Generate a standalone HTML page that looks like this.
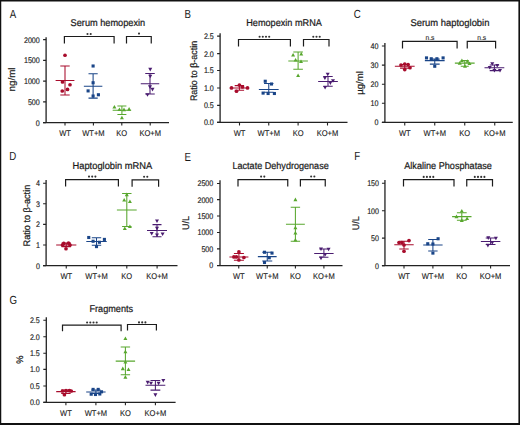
<!DOCTYPE html><html><head><meta charset="utf-8"><style>html,body{margin:0;padding:0;background:#fff}svg{display:block}</style></head><body>
<svg width="520" height="425" viewBox="0 0 520 425" text-rendering="geometricPrecision" font-family='"Liberation Sans", sans-serif'>
<rect x="0" y="0" width="520" height="425" fill="#fff"/>
<text x="9.8" y="17.5" font-size="11.8" text-anchor="start" fill="#1a1a1a" textLength="6.45" lengthAdjust="spacingAndGlyphs" >A</text>
<text x="70.6" y="26.3" font-size="9.8" text-anchor="start" fill="#1a1a1a" stroke="#1a1a1a" stroke-width="0.22" textLength="74.6" lengthAdjust="spacingAndGlyphs" >Serum hemopexin</text>
<path d="M46.1 37.2V122.6M43.1 122.6H169" stroke="#222" stroke-width="1.3" fill="none"/>
<text x="39.8" y="42.550000000000004" font-size="8.2" text-anchor="end" fill="#1a1a1a" stroke="#1a1a1a" stroke-width="0.15" textLength="15.87" lengthAdjust="spacingAndGlyphs" >2000</text>
<text x="39.8" y="63.35" font-size="8.2" text-anchor="end" fill="#1a1a1a" stroke="#1a1a1a" stroke-width="0.15" textLength="15.87" lengthAdjust="spacingAndGlyphs" >1500</text>
<text x="39.8" y="84.05" font-size="8.2" text-anchor="end" fill="#1a1a1a" stroke="#1a1a1a" stroke-width="0.15" textLength="15.87" lengthAdjust="spacingAndGlyphs" >1000</text>
<text x="39.8" y="104.85000000000001" font-size="8.2" text-anchor="end" fill="#1a1a1a" stroke="#1a1a1a" stroke-width="0.15" textLength="11.9" lengthAdjust="spacingAndGlyphs" >500</text>
<text x="39.8" y="125.55" font-size="8.2" text-anchor="end" fill="#1a1a1a" stroke="#1a1a1a" stroke-width="0.15" textLength="3.97" lengthAdjust="spacingAndGlyphs" >0</text>
<path d="M43.1 39.6H46.1M43.1 60.4H46.1M43.1 81.1H46.1M43.1 101.9H46.1M43.1 122.6H46.1M65 122.6V125.6M93.4 122.6V125.6M121.8 122.6V125.6M150.2 122.6V125.6" stroke="#222" stroke-width="1.1" fill="none"/>
<text x="65" y="135.6" font-size="8.4" text-anchor="middle" fill="#1a1a1a" stroke="#1a1a1a" stroke-width="0.12" textLength="11.75" lengthAdjust="spacingAndGlyphs" >WT</text>
<text x="93.4" y="135.6" font-size="8.4" text-anchor="middle" fill="#1a1a1a" stroke="#1a1a1a" stroke-width="0.12" textLength="22.47" lengthAdjust="spacingAndGlyphs" >WT+M</text>
<text x="121.8" y="135.6" font-size="8.4" text-anchor="middle" fill="#1a1a1a" stroke="#1a1a1a" stroke-width="0.12" textLength="10.92" lengthAdjust="spacingAndGlyphs" >KO</text>
<text x="150.2" y="135.6" font-size="8.4" text-anchor="middle" fill="#1a1a1a" stroke="#1a1a1a" stroke-width="0.12" textLength="21.64" lengthAdjust="spacingAndGlyphs" >KO+M</text>
<text x="0" y="0" font-size="9.5" text-anchor="middle" fill="#1a1a1a" stroke="#1a1a1a" stroke-width="0.22" textLength="24" lengthAdjust="spacingAndGlyphs" transform="translate(15.2 79.5) rotate(-90)">ng/ml</text>
<path d="M64.4 43.6V36.5H114.1V43.6" stroke="#1c1c1c" stroke-width="1.2" fill="none"/>
<circle cx="87.50" cy="34" r="1.05" fill="#333"/>
<circle cx="90.70" cy="34" r="1.05" fill="#333"/>
<path d="M126.5 43.6V36.5H151.25V43.6" stroke="#1c1c1c" stroke-width="1.2" fill="none"/>
<circle cx="139.00" cy="33.6" r="1.05" fill="#333"/>
<g stroke="#a80c2c" stroke-width="1.05" fill="none">
<path d="M65 65.9V95M60.3 65.9H69.7M60.3 95H69.7M55.6 80.4H74.4"/>
</g>
<circle cx="65" cy="55.25" r="1.85" fill="#a80c2c"/>
<circle cx="62.5" cy="81.9" r="1.85" fill="#a80c2c"/>
<circle cx="70" cy="84.75" r="1.85" fill="#a80c2c"/>
<circle cx="67.5" cy="89.4" r="1.85" fill="#a80c2c"/>
<circle cx="62.25" cy="91" r="1.85" fill="#a80c2c"/>
<g stroke="#1a4588" stroke-width="1.05" fill="none">
<path d="M93.1 73.75V98.1M88.5 73.75H97.69999999999999M88.5 98.1H97.69999999999999M83.85 86.25H102.35"/>
</g>
<rect x="91.55" y="64.45" width="3.10" height="3.10" fill="#1a4588"/>
<rect x="91.55" y="81.20" width="3.10" height="3.10" fill="#1a4588"/>
<rect x="86.55" y="89.35" width="3.10" height="3.10" fill="#1a4588"/>
<rect x="91.55" y="94.45" width="3.10" height="3.10" fill="#1a4588"/>
<rect x="96.85" y="93.20" width="3.10" height="3.10" fill="#1a4588"/>
<g stroke="#58a72e" stroke-width="1.05" fill="none">
<path d="M121.9 106V114.4M117.4 106H126.4M117.4 114.4H126.4M112.65 110.25H131.15"/>
</g>
<path d="M114.40 104.90L116.40 108.50L112.40 108.50Z" fill="#58a72e"/>
<path d="M119.40 107.40L121.40 111.00L117.40 111.00Z" fill="#58a72e"/>
<path d="M124.00 107.60L126.00 111.20L122.00 111.20Z" fill="#58a72e"/>
<path d="M129.10 107.10L131.10 110.70L127.10 110.70Z" fill="#58a72e"/>
<path d="M121.90 115.75L123.90 119.35L119.90 119.35Z" fill="#58a72e"/>
<g stroke="#4a1c70" stroke-width="1.05" fill="none">
<path d="M150 73.4V94M145.25 73.4H154.75M145.25 94H154.75M140.75 83.75H159.25"/>
</g>
<path d="M150.25 71.40L152.25 67.80L148.25 67.80Z" fill="#4a1c70"/>
<path d="M150.25 78.25L152.25 74.65L148.25 74.65Z" fill="#4a1c70"/>
<path d="M150.00 88.90L152.00 85.30L148.00 85.30Z" fill="#4a1c70"/>
<path d="M152.50 91.40L154.50 87.80L150.50 87.80Z" fill="#4a1c70"/>
<path d="M147.50 96.75L149.50 93.15L145.50 93.15Z" fill="#4a1c70"/>
<text x="184.5" y="17.5" font-size="11.8" text-anchor="start" fill="#1a1a1a" textLength="6.45" lengthAdjust="spacingAndGlyphs" >B</text>
<text x="246.25" y="26.25" font-size="9.8" text-anchor="start" fill="#1a1a1a" stroke="#1a1a1a" stroke-width="0.22" textLength="75.6" lengthAdjust="spacingAndGlyphs" >Hemopexin mRNA</text>
<path d="M220.1 33.25V122.4M217.1 122.4H347.5" stroke="#222" stroke-width="1.3" fill="none"/>
<text x="213.8" y="39.050000000000004" font-size="8.2" text-anchor="end" fill="#1a1a1a" stroke="#1a1a1a" stroke-width="0.15" textLength="9.92" lengthAdjust="spacingAndGlyphs" >2.5</text>
<text x="213.8" y="56.550000000000004" font-size="8.2" text-anchor="end" fill="#1a1a1a" stroke="#1a1a1a" stroke-width="0.15" textLength="9.92" lengthAdjust="spacingAndGlyphs" >2.0</text>
<text x="213.8" y="73.45" font-size="8.2" text-anchor="end" fill="#1a1a1a" stroke="#1a1a1a" stroke-width="0.15" textLength="9.92" lengthAdjust="spacingAndGlyphs" >1.5</text>
<text x="213.8" y="90.95" font-size="8.2" text-anchor="end" fill="#1a1a1a" stroke="#1a1a1a" stroke-width="0.15" textLength="9.92" lengthAdjust="spacingAndGlyphs" >1.0</text>
<text x="213.8" y="108.35000000000001" font-size="8.2" text-anchor="end" fill="#1a1a1a" stroke="#1a1a1a" stroke-width="0.15" textLength="9.92" lengthAdjust="spacingAndGlyphs" >0.5</text>
<text x="213.8" y="125.35000000000001" font-size="8.2" text-anchor="end" fill="#1a1a1a" stroke="#1a1a1a" stroke-width="0.15" textLength="9.92" lengthAdjust="spacingAndGlyphs" >0.0</text>
<path d="M217.1 36.1H220.1M217.1 53.6H220.1M217.1 70.5H220.1M217.1 88H220.1M217.1 105.4H220.1M217.1 122.4H220.1M239.5 122.4V125.4M268.75 122.4V125.4M298.1 122.4V125.4M327.5 122.4V125.4" stroke="#222" stroke-width="1.1" fill="none"/>
<text x="239.5" y="135.7" font-size="8.4" text-anchor="middle" fill="#1a1a1a" stroke="#1a1a1a" stroke-width="0.12" textLength="11.75" lengthAdjust="spacingAndGlyphs" >WT</text>
<text x="268.75" y="135.7" font-size="8.4" text-anchor="middle" fill="#1a1a1a" stroke="#1a1a1a" stroke-width="0.12" textLength="22.47" lengthAdjust="spacingAndGlyphs" >WT+M</text>
<text x="298.1" y="135.7" font-size="8.4" text-anchor="middle" fill="#1a1a1a" stroke="#1a1a1a" stroke-width="0.12" textLength="10.92" lengthAdjust="spacingAndGlyphs" >KO</text>
<text x="327.5" y="135.7" font-size="8.4" text-anchor="middle" fill="#1a1a1a" stroke="#1a1a1a" stroke-width="0.12" textLength="21.64" lengthAdjust="spacingAndGlyphs" >KO+M</text>
<text x="0" y="0" font-size="9.5" text-anchor="middle" fill="#1a1a1a" stroke="#1a1a1a" stroke-width="0.22" textLength="60.2" lengthAdjust="spacingAndGlyphs" transform="translate(196.8 71) rotate(-90)">Ratio to β-actin</text>
<path d="M238.5 46.5V39.5H290.4V46.5" stroke="#1c1c1c" stroke-width="1.2" fill="none"/>
<circle cx="259.60" cy="36.75" r="1.05" fill="#333"/>
<circle cx="262.80" cy="36.75" r="1.05" fill="#333"/>
<circle cx="266.00" cy="36.75" r="1.05" fill="#333"/>
<circle cx="269.20" cy="36.75" r="1.05" fill="#333"/>
<path d="M303.5 46.5V39.5H329V46.5" stroke="#1c1c1c" stroke-width="1.2" fill="none"/>
<circle cx="313.30" cy="36.75" r="1.05" fill="#333"/>
<circle cx="316.50" cy="36.75" r="1.05" fill="#333"/>
<circle cx="319.70" cy="36.75" r="1.05" fill="#333"/>
<g stroke="#a80c2c" stroke-width="1.05" fill="none">
<path d="M239.4 85.6V90.3M234.70000000000002 85.6H244.1M234.70000000000002 90.3H244.1M229.70000000000002 87.9H249.1"/>
</g>
<circle cx="231.5" cy="87.9" r="1.85" fill="#a80c2c"/>
<circle cx="239.4" cy="85" r="1.85" fill="#a80c2c"/>
<circle cx="236.5" cy="91.25" r="1.85" fill="#a80c2c"/>
<circle cx="242.5" cy="86.9" r="1.85" fill="#a80c2c"/>
<circle cx="247.5" cy="87.9" r="1.85" fill="#a80c2c"/>
<g stroke="#1a4588" stroke-width="1.05" fill="none">
<path d="M268.75 83.5V92.25M264.05 83.5H273.45M264.05 92.25H273.45M258.85 89.4H278.65"/>
</g>
<rect x="263.70" y="79.70" width="3.10" height="3.10" fill="#1a4588"/>
<rect x="269.95" y="82.45" width="3.10" height="3.10" fill="#1a4588"/>
<rect x="261.55" y="91.55" width="3.10" height="3.10" fill="#1a4588"/>
<rect x="266.55" y="91.95" width="3.10" height="3.10" fill="#1a4588"/>
<rect x="272.85" y="91.95" width="3.10" height="3.10" fill="#1a4588"/>
<g stroke="#58a72e" stroke-width="1.05" fill="none">
<path d="M298.1 52V69.25M293.3 52H302.90000000000003M293.3 69.25H302.90000000000003M288.3 60.9H307.90000000000003"/>
</g>
<path d="M293.10 52.90L295.10 56.50L291.10 56.50Z" fill="#58a72e"/>
<path d="M301.25 52.00L303.25 55.60L299.25 55.60Z" fill="#58a72e"/>
<path d="M295.60 57.90L297.60 61.50L293.60 61.50Z" fill="#58a72e"/>
<path d="M301.00 59.50L303.00 63.10L299.00 63.10Z" fill="#58a72e"/>
<path d="M298.10 73.50L300.10 77.10L296.10 77.10Z" fill="#58a72e"/>
<g stroke="#4a1c70" stroke-width="1.05" fill="none">
<path d="M328 76.4V86.25M323.3 76.4H332.7M323.3 86.25H332.7M318.15 81.4H337.85"/>
</g>
<path d="M327.70 76.30L329.70 72.70L325.70 72.70Z" fill="#4a1c70"/>
<path d="M324.90 80.00L326.90 76.40L322.90 76.40Z" fill="#4a1c70"/>
<path d="M330.40 84.90L332.40 81.30L328.40 81.30Z" fill="#4a1c70"/>
<path d="M333.00 82.75L335.00 79.15L331.00 79.15Z" fill="#4a1c70"/>
<path d="M325.10 89.50L327.10 85.90L323.10 85.90Z" fill="#4a1c70"/>
<text x="353.75" y="18" font-size="11.8" text-anchor="start" fill="#1a1a1a" textLength="6.99" lengthAdjust="spacingAndGlyphs" >C</text>
<text x="410.4" y="26.15" font-size="9.8" text-anchor="start" fill="#1a1a1a" stroke="#1a1a1a" stroke-width="0.22" textLength="79.05" lengthAdjust="spacingAndGlyphs" >Serum haptoglobin</text>
<path d="M384.9 43.0V122.4M381.9 122.4H512.75" stroke="#222" stroke-width="1.3" fill="none"/>
<text x="378.40000000000003" y="48.95" font-size="8.2" text-anchor="end" fill="#1a1a1a" stroke="#1a1a1a" stroke-width="0.15" textLength="7.94" lengthAdjust="spacingAndGlyphs" >40</text>
<text x="378.40000000000003" y="68.05" font-size="8.2" text-anchor="end" fill="#1a1a1a" stroke="#1a1a1a" stroke-width="0.15" textLength="7.94" lengthAdjust="spacingAndGlyphs" >30</text>
<text x="378.40000000000003" y="87.15" font-size="8.2" text-anchor="end" fill="#1a1a1a" stroke="#1a1a1a" stroke-width="0.15" textLength="7.94" lengthAdjust="spacingAndGlyphs" >20</text>
<text x="378.40000000000003" y="106.25" font-size="8.2" text-anchor="end" fill="#1a1a1a" stroke="#1a1a1a" stroke-width="0.15" textLength="7.94" lengthAdjust="spacingAndGlyphs" >10</text>
<text x="378.40000000000003" y="125.35000000000001" font-size="8.2" text-anchor="end" fill="#1a1a1a" stroke="#1a1a1a" stroke-width="0.15" textLength="3.97" lengthAdjust="spacingAndGlyphs" >0</text>
<path d="M381.9 46.0H384.9M381.9 65.1H384.9M381.9 84.2H384.9M381.9 103.3H384.9M381.9 122.4H384.9M404.75 122.4V125.4M434.75 122.4V125.4M464.75 122.4V125.4M494.75 122.4V125.4" stroke="#222" stroke-width="1.1" fill="none"/>
<text x="404.75" y="135.6" font-size="8.4" text-anchor="middle" fill="#1a1a1a" stroke="#1a1a1a" stroke-width="0.12" textLength="11.75" lengthAdjust="spacingAndGlyphs" >WT</text>
<text x="434.75" y="135.6" font-size="8.4" text-anchor="middle" fill="#1a1a1a" stroke="#1a1a1a" stroke-width="0.12" textLength="22.47" lengthAdjust="spacingAndGlyphs" >WT+M</text>
<text x="464.75" y="135.6" font-size="8.4" text-anchor="middle" fill="#1a1a1a" stroke="#1a1a1a" stroke-width="0.12" textLength="10.92" lengthAdjust="spacingAndGlyphs" >KO</text>
<text x="494.75" y="135.6" font-size="8.4" text-anchor="middle" fill="#1a1a1a" stroke="#1a1a1a" stroke-width="0.12" textLength="21.64" lengthAdjust="spacingAndGlyphs" >KO+M</text>
<text x="0" y="0" font-size="9.5" text-anchor="middle" fill="#1a1a1a" stroke="#1a1a1a" stroke-width="0.22" textLength="23.6" lengthAdjust="spacingAndGlyphs" transform="translate(363.2 83) rotate(-90)">µg/ml</text>
<path d="M402.5 48.5V41.4H457.1V48.5" stroke="#1c1c1c" stroke-width="1.2" fill="none"/>
<text x="430" y="39.7" font-size="7" text-anchor="middle" fill="#1a1a1a" stroke="#1a1a1a" stroke-width="0.1" textLength="9" lengthAdjust="spacingAndGlyphs" >n.s</text>
<path d="M467.25 48.5V41.4H495.6V48.5" stroke="#1c1c1c" stroke-width="1.2" fill="none"/>
<text x="481.75" y="39.7" font-size="7" text-anchor="middle" fill="#1a1a1a" stroke="#1a1a1a" stroke-width="0.1" textLength="9" lengthAdjust="spacingAndGlyphs" >n.s</text>
<g stroke="#a80c2c" stroke-width="1.05" fill="none">
<path d="M404.75 64.4V68.1M400.05 64.4H409.45M400.05 68.1H409.45M394.85 66.25H414.65"/>
</g>
<circle cx="401" cy="65" r="1.85" fill="#a80c2c"/>
<circle cx="404.75" cy="64" r="1.85" fill="#a80c2c"/>
<circle cx="408.1" cy="64.6" r="1.85" fill="#a80c2c"/>
<circle cx="410" cy="67.75" r="1.85" fill="#a80c2c"/>
<circle cx="404.75" cy="69.6" r="1.85" fill="#a80c2c"/>
<g stroke="#1a4588" stroke-width="1.05" fill="none">
<path d="M434.75 59.1V64.1M429.85 59.1H439.65M429.85 64.1H439.65M424.85 60.6H444.65"/>
</g>
<rect x="424.95" y="56.35" width="3.10" height="3.10" fill="#1a4588"/>
<rect x="429.70" y="57.20" width="3.10" height="3.10" fill="#1a4588"/>
<rect x="435.35" y="57.20" width="3.10" height="3.10" fill="#1a4588"/>
<rect x="441.55" y="56.35" width="3.10" height="3.10" fill="#1a4588"/>
<rect x="433.20" y="64.70" width="3.10" height="3.10" fill="#1a4588"/>
<g stroke="#58a72e" stroke-width="1.05" fill="none">
<path d="M464.75 60.4V66.25M460.75 60.4H468.75M460.75 66.25H468.75M454.85 63.1H474.65"/>
</g>
<path d="M461.90 58.40L463.90 62.00L459.90 62.00Z" fill="#58a72e"/>
<path d="M467.50 59.25L469.50 62.85L465.50 62.85Z" fill="#58a72e"/>
<path d="M459.75 61.10L461.75 64.70L457.75 64.70Z" fill="#58a72e"/>
<path d="M465.00 64.25L467.00 67.85L463.00 67.85Z" fill="#58a72e"/>
<path d="M469.50 61.50L471.50 65.10L467.50 65.10Z" fill="#58a72e"/>
<g stroke="#4a1c70" stroke-width="1.05" fill="none">
<path d="M494.4 65V70.6M489.7 65H499.09999999999997M489.7 70.6H499.09999999999997M484.5 67.75H504.29999999999995"/>
</g>
<path d="M492.25 65.75L494.25 62.15L490.25 62.15Z" fill="#4a1c70"/>
<path d="M497.25 67.60L499.25 64.00L495.25 64.00Z" fill="#4a1c70"/>
<path d="M489.75 69.50L491.75 65.90L487.75 65.90Z" fill="#4a1c70"/>
<path d="M494.40 72.60L496.40 69.00L492.40 69.00Z" fill="#4a1c70"/>
<path d="M500.00 72.60L502.00 69.00L498.00 69.00Z" fill="#4a1c70"/>
<text x="9.2" y="160.4" font-size="11.8" text-anchor="start" fill="#1a1a1a" textLength="6.99" lengthAdjust="spacingAndGlyphs" >D</text>
<text x="72.5" y="168.75" font-size="9.8" text-anchor="start" fill="#1a1a1a" stroke="#1a1a1a" stroke-width="0.22" textLength="79.8" lengthAdjust="spacingAndGlyphs" >Haptoglobin mRNA</text>
<path d="M46.1 180.1V265.6M43.1 265.6H177.5" stroke="#222" stroke-width="1.3" fill="none"/>
<text x="40.0" y="186.14999999999998" font-size="8.2" text-anchor="end" fill="#1a1a1a" stroke="#1a1a1a" stroke-width="0.15" textLength="3.97" lengthAdjust="spacingAndGlyphs" >4</text>
<text x="40.0" y="206.75" font-size="8.2" text-anchor="end" fill="#1a1a1a" stroke="#1a1a1a" stroke-width="0.15" textLength="3.97" lengthAdjust="spacingAndGlyphs" >3</text>
<text x="40.0" y="227.35" font-size="8.2" text-anchor="end" fill="#1a1a1a" stroke="#1a1a1a" stroke-width="0.15" textLength="3.97" lengthAdjust="spacingAndGlyphs" >2</text>
<text x="40.0" y="247.95" font-size="8.2" text-anchor="end" fill="#1a1a1a" stroke="#1a1a1a" stroke-width="0.15" textLength="3.97" lengthAdjust="spacingAndGlyphs" >1</text>
<text x="40.0" y="268.55" font-size="8.2" text-anchor="end" fill="#1a1a1a" stroke="#1a1a1a" stroke-width="0.15" textLength="3.97" lengthAdjust="spacingAndGlyphs" >0</text>
<path d="M43.1 183.2H46.1M43.1 203.8H46.1M43.1 224.4H46.1M43.1 245.0H46.1M43.1 265.6H46.1M66.25 265.6V268.6M96.5 265.6V268.6M126.8 265.6V268.6M157.1 265.6V268.6" stroke="#222" stroke-width="1.1" fill="none"/>
<text x="66.25" y="279" font-size="8.4" text-anchor="middle" fill="#1a1a1a" stroke="#1a1a1a" stroke-width="0.12" textLength="11.75" lengthAdjust="spacingAndGlyphs" >WT</text>
<text x="96.5" y="279" font-size="8.4" text-anchor="middle" fill="#1a1a1a" stroke="#1a1a1a" stroke-width="0.12" textLength="22.47" lengthAdjust="spacingAndGlyphs" >WT+M</text>
<text x="126.8" y="279" font-size="8.4" text-anchor="middle" fill="#1a1a1a" stroke="#1a1a1a" stroke-width="0.12" textLength="10.92" lengthAdjust="spacingAndGlyphs" >KO</text>
<text x="157.1" y="279" font-size="8.4" text-anchor="middle" fill="#1a1a1a" stroke="#1a1a1a" stroke-width="0.12" textLength="21.64" lengthAdjust="spacingAndGlyphs" >KO+M</text>
<text x="0" y="0" font-size="9.5" text-anchor="middle" fill="#1a1a1a" stroke="#1a1a1a" stroke-width="0.22" textLength="61.7" lengthAdjust="spacingAndGlyphs" transform="translate(30 215.6) rotate(-90)">Ratio to β-actin</text>
<path d="M65.6 186.6V179.7H118.4V186.6" stroke="#1c1c1c" stroke-width="1.2" fill="none"/>
<circle cx="89.00" cy="176.6" r="1.05" fill="#333"/>
<circle cx="92.20" cy="176.6" r="1.05" fill="#333"/>
<circle cx="95.40" cy="176.6" r="1.05" fill="#333"/>
<path d="M132.1 186.7V179.8H158.6V186.7" stroke="#1c1c1c" stroke-width="1.2" fill="none"/>
<circle cx="144.10" cy="176.8" r="1.05" fill="#333"/>
<circle cx="147.30" cy="176.8" r="1.05" fill="#333"/>
<g stroke="#a80c2c" stroke-width="1.05" fill="none">
<path d="M66.25 243.1V246.6M61.55 243.1H70.95M61.55 246.6H70.95M56.15 245H76.35"/>
</g>
<circle cx="63.75" cy="243.4" r="1.85" fill="#a80c2c"/>
<circle cx="68.5" cy="243.1" r="1.85" fill="#a80c2c"/>
<circle cx="70" cy="245" r="1.85" fill="#a80c2c"/>
<circle cx="62.5" cy="245" r="1.85" fill="#a80c2c"/>
<circle cx="66" cy="248.75" r="1.85" fill="#a80c2c"/>
<g stroke="#1a4588" stroke-width="1.05" fill="none">
<path d="M96.5 237.75V245.25M91.8 237.75H101.2M91.8 245.25H101.2M86.3 241.5H106.7"/>
</g>
<rect x="87.20" y="235.95" width="3.10" height="3.10" fill="#1a4588"/>
<rect x="102.85" y="237.85" width="3.10" height="3.10" fill="#1a4588"/>
<rect x="91.55" y="239.70" width="3.10" height="3.10" fill="#1a4588"/>
<rect x="97.85" y="240.70" width="3.10" height="3.10" fill="#1a4588"/>
<rect x="94.95" y="245.05" width="3.10" height="3.10" fill="#1a4588"/>
<g stroke="#58a72e" stroke-width="1.05" fill="none">
<path d="M126.8 193.5V226.4M122.1 193.5H131.5M122.1 226.4H131.5M116.89999999999999 209.9H136.7"/>
</g>
<path d="M126.80 192.60L128.80 196.20L124.80 196.20Z" fill="#58a72e"/>
<path d="M124.20 198.00L126.20 201.60L122.20 201.60Z" fill="#58a72e"/>
<path d="M129.90 199.40L131.90 203.00L127.90 203.00Z" fill="#58a72e"/>
<path d="M124.80 226.40L126.80 230.00L122.80 230.00Z" fill="#58a72e"/>
<path d="M129.90 224.40L131.90 228.00L127.90 228.00Z" fill="#58a72e"/>
<g stroke="#4a1c70" stroke-width="1.05" fill="none">
<path d="M157 224.6V236.7M152.5 224.6H161.5M152.5 236.7H161.5M147 230.5H167"/>
</g>
<path d="M157.00 223.00L159.00 219.40L155.00 219.40Z" fill="#4a1c70"/>
<path d="M157.00 230.40L159.00 226.80L155.00 226.80Z" fill="#4a1c70"/>
<path d="M151.70 235.60L153.70 232.00L149.70 232.00Z" fill="#4a1c70"/>
<path d="M157.00 237.00L159.00 233.40L155.00 233.40Z" fill="#4a1c70"/>
<path d="M162.60 236.10L164.60 232.50L160.60 232.50Z" fill="#4a1c70"/>
<text x="184.4" y="160.5" font-size="11.8" text-anchor="start" fill="#1a1a1a" textLength="6.45" lengthAdjust="spacingAndGlyphs" >E</text>
<text x="232.5" y="168.75" font-size="9.8" text-anchor="start" fill="#1a1a1a" stroke="#1a1a1a" stroke-width="0.22" textLength="96.2" lengthAdjust="spacingAndGlyphs" >Lactate Dehydrogenase</text>
<path d="M220.0 180.2V265.6M217.0 265.6H342.5" stroke="#222" stroke-width="1.3" fill="none"/>
<text x="213.3" y="186.45" font-size="8.2" text-anchor="end" fill="#1a1a1a" stroke="#1a1a1a" stroke-width="0.15" textLength="15.87" lengthAdjust="spacingAndGlyphs" >2500</text>
<text x="213.3" y="202.54999999999998" font-size="8.2" text-anchor="end" fill="#1a1a1a" stroke="#1a1a1a" stroke-width="0.15" textLength="15.87" lengthAdjust="spacingAndGlyphs" >2000</text>
<text x="213.3" y="218.95" font-size="8.2" text-anchor="end" fill="#1a1a1a" stroke="#1a1a1a" stroke-width="0.15" textLength="15.87" lengthAdjust="spacingAndGlyphs" >1500</text>
<text x="213.3" y="235.45" font-size="8.2" text-anchor="end" fill="#1a1a1a" stroke="#1a1a1a" stroke-width="0.15" textLength="15.87" lengthAdjust="spacingAndGlyphs" >1000</text>
<text x="213.3" y="251.85" font-size="8.2" text-anchor="end" fill="#1a1a1a" stroke="#1a1a1a" stroke-width="0.15" textLength="11.9" lengthAdjust="spacingAndGlyphs" >500</text>
<text x="213.3" y="268.45" font-size="8.2" text-anchor="end" fill="#1a1a1a" stroke="#1a1a1a" stroke-width="0.15" textLength="3.97" lengthAdjust="spacingAndGlyphs" >0</text>
<path d="M217.0 183.5H220.0M217.0 199.6H220.0M217.0 216H220.0M217.0 232.5H220.0M217.0 248.9H220.0M217.0 265.5H220.0M238.75 265.6V268.6M267.25 265.6V268.6M295.4 265.6V268.6M323.9 265.6V268.6" stroke="#222" stroke-width="1.1" fill="none"/>
<text x="238.75" y="278.8" font-size="8.4" text-anchor="middle" fill="#1a1a1a" stroke="#1a1a1a" stroke-width="0.12" textLength="11.75" lengthAdjust="spacingAndGlyphs" >WT</text>
<text x="267.25" y="278.8" font-size="8.4" text-anchor="middle" fill="#1a1a1a" stroke="#1a1a1a" stroke-width="0.12" textLength="22.47" lengthAdjust="spacingAndGlyphs" >WT+M</text>
<text x="295.4" y="278.8" font-size="8.4" text-anchor="middle" fill="#1a1a1a" stroke="#1a1a1a" stroke-width="0.12" textLength="10.92" lengthAdjust="spacingAndGlyphs" >KO</text>
<text x="323.9" y="278.8" font-size="8.4" text-anchor="middle" fill="#1a1a1a" stroke="#1a1a1a" stroke-width="0.12" textLength="21.64" lengthAdjust="spacingAndGlyphs" >KO+M</text>
<text x="0" y="0" font-size="9.5" text-anchor="middle" fill="#1a1a1a" stroke="#1a1a1a" stroke-width="0.22" textLength="14" lengthAdjust="spacingAndGlyphs" transform="translate(189.4 222.9) rotate(-90)">U/L</text>
<path d="M238.0 186.5V179.6H287.75V186.5" stroke="#1c1c1c" stroke-width="1.2" fill="none"/>
<circle cx="261.10" cy="176.6" r="1.05" fill="#333"/>
<circle cx="264.30" cy="176.6" r="1.05" fill="#333"/>
<path d="M300.4 186.5V179.6H325.25V186.5" stroke="#1c1c1c" stroke-width="1.2" fill="none"/>
<circle cx="311.15" cy="176.5" r="1.05" fill="#333"/>
<circle cx="314.35" cy="176.5" r="1.05" fill="#333"/>
<g stroke="#a80c2c" stroke-width="1.05" fill="none">
<path d="M238.9 253.5V260.25M233.9 253.5H243.9M233.9 260.25H243.9M229.4 256.9H248.4"/>
</g>
<circle cx="238.9" cy="251.9" r="1.85" fill="#a80c2c"/>
<circle cx="233.9" cy="256.9" r="1.85" fill="#a80c2c"/>
<circle cx="243.9" cy="257.5" r="1.85" fill="#a80c2c"/>
<circle cx="238.9" cy="260" r="1.85" fill="#a80c2c"/>
<circle cx="236.4" cy="256.9" r="1.85" fill="#a80c2c"/>
<g stroke="#1a4588" stroke-width="1.05" fill="none">
<path d="M267.25 252.25V261M262.25 252.25H272.25M262.25 261H272.25M257.85 256.6H276.65"/>
</g>
<rect x="262.95" y="250.70" width="3.10" height="3.10" fill="#1a4588"/>
<rect x="270.45" y="251.55" width="3.10" height="3.10" fill="#1a4588"/>
<rect x="267.70" y="256.20" width="3.10" height="3.10" fill="#1a4588"/>
<rect x="262.95" y="260.95" width="3.10" height="3.10" fill="#1a4588"/>
<g stroke="#58a72e" stroke-width="1.05" fill="none">
<path d="M295.4 207.3V241.2M290.7 207.3H300.09999999999997M290.7 241.2H300.09999999999997M285.95 224.3H304.84999999999997"/>
</g>
<path d="M295.40 197.60L297.40 201.20L293.40 201.20Z" fill="#58a72e"/>
<path d="M295.40 225.70L297.40 229.30L293.40 229.30Z" fill="#58a72e"/>
<path d="M295.40 230.90L297.40 234.50L293.40 234.50Z" fill="#58a72e"/>
<path d="M295.40 237.90L297.40 241.50L293.40 241.50Z" fill="#58a72e"/>
<g stroke="#4a1c70" stroke-width="1.05" fill="none">
<path d="M323.9 249V257.2M319.34999999999997 249H328.45M319.34999999999997 257.2H328.45M314.2 253.5H333.59999999999997"/>
</g>
<path d="M321.00 251.00L323.00 247.40L319.00 247.40Z" fill="#4a1c70"/>
<path d="M328.60 251.30L330.60 247.70L326.60 247.70Z" fill="#4a1c70"/>
<path d="M325.20 256.60L327.20 253.00L323.20 253.00Z" fill="#4a1c70"/>
<path d="M321.00 260.20L323.00 256.60L319.00 256.60Z" fill="#4a1c70"/>
<text x="354.3" y="160.2" font-size="11.8" text-anchor="start" fill="#1a1a1a" textLength="5.91" lengthAdjust="spacingAndGlyphs" >F</text>
<text x="404.25" y="169.25" font-size="9.8" text-anchor="start" fill="#1a1a1a" stroke="#1a1a1a" stroke-width="0.22" textLength="87.6" lengthAdjust="spacingAndGlyphs" >Alkaline Phosphatase</text>
<path d="M384.95 180.1V265.6M381.95 265.6H510" stroke="#222" stroke-width="1.3" fill="none"/>
<text x="379.05" y="186.2" font-size="8.2" text-anchor="end" fill="#1a1a1a" stroke="#1a1a1a" stroke-width="0.15" textLength="11.9" lengthAdjust="spacingAndGlyphs" >150</text>
<text x="379.05" y="213.64999999999998" font-size="8.2" text-anchor="end" fill="#1a1a1a" stroke="#1a1a1a" stroke-width="0.15" textLength="11.9" lengthAdjust="spacingAndGlyphs" >100</text>
<text x="379.05" y="241.1" font-size="8.2" text-anchor="end" fill="#1a1a1a" stroke="#1a1a1a" stroke-width="0.15" textLength="7.94" lengthAdjust="spacingAndGlyphs" >50</text>
<text x="379.05" y="268.55" font-size="8.2" text-anchor="end" fill="#1a1a1a" stroke="#1a1a1a" stroke-width="0.15" textLength="3.97" lengthAdjust="spacingAndGlyphs" >0</text>
<path d="M381.95 183.25H384.95M381.95 210.7H384.95M381.95 238.15H384.95M381.95 265.6H384.95M404 265.6V268.6M432.9 265.6V268.6M461.8 265.6V268.6M490.6 265.6V268.6" stroke="#222" stroke-width="1.1" fill="none"/>
<text x="404" y="279" font-size="8.4" text-anchor="middle" fill="#1a1a1a" stroke="#1a1a1a" stroke-width="0.12" textLength="11.75" lengthAdjust="spacingAndGlyphs" >WT</text>
<text x="432.9" y="279" font-size="8.4" text-anchor="middle" fill="#1a1a1a" stroke="#1a1a1a" stroke-width="0.12" textLength="22.47" lengthAdjust="spacingAndGlyphs" >WT+M</text>
<text x="461.8" y="279" font-size="8.4" text-anchor="middle" fill="#1a1a1a" stroke="#1a1a1a" stroke-width="0.12" textLength="10.92" lengthAdjust="spacingAndGlyphs" >KO</text>
<text x="490.6" y="279" font-size="8.4" text-anchor="middle" fill="#1a1a1a" stroke="#1a1a1a" stroke-width="0.12" textLength="21.64" lengthAdjust="spacingAndGlyphs" >KO+M</text>
<text x="0" y="0" font-size="9.5" text-anchor="middle" fill="#1a1a1a" stroke="#1a1a1a" stroke-width="0.22" textLength="14" lengthAdjust="spacingAndGlyphs" transform="translate(359 223.3) rotate(-90)">U/L</text>
<path d="M403.5 186.5V179.6H454V186.5" stroke="#1c1c1c" stroke-width="1.2" fill="none"/>
<circle cx="423.70" cy="176.9" r="1.05" fill="#333"/>
<circle cx="426.90" cy="176.9" r="1.05" fill="#333"/>
<circle cx="430.10" cy="176.9" r="1.05" fill="#333"/>
<circle cx="433.30" cy="176.9" r="1.05" fill="#333"/>
<path d="M466.75 186.5V179.6H492.5V186.5" stroke="#1c1c1c" stroke-width="1.2" fill="none"/>
<circle cx="474.80" cy="176.9" r="1.05" fill="#333"/>
<circle cx="478.00" cy="176.9" r="1.05" fill="#333"/>
<circle cx="481.20" cy="176.9" r="1.05" fill="#333"/>
<circle cx="484.40" cy="176.9" r="1.05" fill="#333"/>
<g stroke="#a80c2c" stroke-width="1.05" fill="none">
<path d="M404 241.25V249M399.3 241.25H408.7M399.3 249H408.7M394.3 244.75H413.7"/>
</g>
<circle cx="409" cy="240.6" r="1.85" fill="#a80c2c"/>
<circle cx="399" cy="242.5" r="1.85" fill="#a80c2c"/>
<circle cx="404" cy="245" r="1.85" fill="#a80c2c"/>
<circle cx="404" cy="251.25" r="1.85" fill="#a80c2c"/>
<circle cx="401.9" cy="242.5" r="1.85" fill="#a80c2c"/>
<g stroke="#1a4588" stroke-width="1.05" fill="none">
<path d="M432.9 239.4V250.9M428.2 239.4H437.59999999999997M428.2 250.9H437.59999999999997M423.2 245H442.59999999999997"/>
</g>
<rect x="436.55" y="237.20" width="3.10" height="3.10" fill="#1a4588"/>
<rect x="426.20" y="242.20" width="3.10" height="3.10" fill="#1a4588"/>
<rect x="431.35" y="242.45" width="3.10" height="3.10" fill="#1a4588"/>
<rect x="431.35" y="251.55" width="3.10" height="3.10" fill="#1a4588"/>
<g stroke="#58a72e" stroke-width="1.05" fill="none">
<path d="M461.8 212.7V220.3M456.90000000000003 212.7H466.7M456.90000000000003 220.3H466.7M452.1 216.6H471.5"/>
</g>
<path d="M461.80 208.90L463.80 212.50L459.80 212.50Z" fill="#58a72e"/>
<path d="M456.50 214.60L458.50 218.20L454.50 218.20Z" fill="#58a72e"/>
<path d="M467.10 216.50L469.10 220.10L465.10 220.10Z" fill="#58a72e"/>
<path d="M461.80 218.30L463.80 221.90L459.80 221.90Z" fill="#58a72e"/>
<g stroke="#4a1c70" stroke-width="1.05" fill="none">
<path d="M490.6 237.9V244.5M485.70000000000005 237.9H495.5M485.70000000000005 244.5H495.5M480.85 241.5H500.35"/>
</g>
<path d="M488.30 239.90L490.30 236.30L486.30 236.30Z" fill="#4a1c70"/>
<path d="M495.90 240.30L497.90 236.70L493.90 236.70Z" fill="#4a1c70"/>
<path d="M492.30 244.70L494.30 241.10L490.30 241.10Z" fill="#4a1c70"/>
<path d="M487.90 247.40L489.90 243.80L485.90 243.80Z" fill="#4a1c70"/>
<text x="9.5" y="303.75" font-size="11.8" text-anchor="start" fill="#1a1a1a" textLength="7.53" lengthAdjust="spacingAndGlyphs" >G</text>
<text x="89.5" y="311.8" font-size="9.8" text-anchor="start" fill="#1a1a1a" stroke="#1a1a1a" stroke-width="0.22" textLength="43.6" lengthAdjust="spacingAndGlyphs" >Fragments</text>
<path d="M46.3 317.3V402.3M43.3 402.3H175.6" stroke="#222" stroke-width="1.3" fill="none"/>
<text x="39.8" y="323.15" font-size="8.2" text-anchor="end" fill="#1a1a1a" stroke="#1a1a1a" stroke-width="0.15" textLength="9.92" lengthAdjust="spacingAndGlyphs" >2.5</text>
<text x="39.8" y="339.65" font-size="8.2" text-anchor="end" fill="#1a1a1a" stroke="#1a1a1a" stroke-width="0.15" textLength="9.92" lengthAdjust="spacingAndGlyphs" >2.0</text>
<text x="39.8" y="356.15" font-size="8.2" text-anchor="end" fill="#1a1a1a" stroke="#1a1a1a" stroke-width="0.15" textLength="9.92" lengthAdjust="spacingAndGlyphs" >1.5</text>
<text x="39.8" y="372.34999999999997" font-size="8.2" text-anchor="end" fill="#1a1a1a" stroke="#1a1a1a" stroke-width="0.15" textLength="9.92" lengthAdjust="spacingAndGlyphs" >1.0</text>
<text x="39.8" y="388.95" font-size="8.2" text-anchor="end" fill="#1a1a1a" stroke="#1a1a1a" stroke-width="0.15" textLength="9.92" lengthAdjust="spacingAndGlyphs" >0.5</text>
<text x="39.8" y="405.25" font-size="8.2" text-anchor="end" fill="#1a1a1a" stroke="#1a1a1a" stroke-width="0.15" textLength="9.92" lengthAdjust="spacingAndGlyphs" >0.0</text>
<path d="M43.3 320.2H46.3M43.3 336.7H46.3M43.3 353.2H46.3M43.3 369.4H46.3M43.3 386H46.3M43.3 402.3H46.3M65.9 402.3V405.3M95.9 402.3V405.3M125.4 402.3V405.3M155.4 402.3V405.3" stroke="#222" stroke-width="1.1" fill="none"/>
<text x="65.9" y="415.8" font-size="8.4" text-anchor="middle" fill="#1a1a1a" stroke="#1a1a1a" stroke-width="0.12" textLength="11.75" lengthAdjust="spacingAndGlyphs" >WT</text>
<text x="95.9" y="415.8" font-size="8.4" text-anchor="middle" fill="#1a1a1a" stroke="#1a1a1a" stroke-width="0.12" textLength="22.47" lengthAdjust="spacingAndGlyphs" >WT+M</text>
<text x="125.4" y="415.8" font-size="8.4" text-anchor="middle" fill="#1a1a1a" stroke="#1a1a1a" stroke-width="0.12" textLength="10.92" lengthAdjust="spacingAndGlyphs" >KO</text>
<text x="155.4" y="415.8" font-size="8.4" text-anchor="middle" fill="#1a1a1a" stroke="#1a1a1a" stroke-width="0.12" textLength="21.64" lengthAdjust="spacingAndGlyphs" >KO+M</text>
<text x="0" y="0" font-size="9.5" text-anchor="middle" fill="#1a1a1a" stroke="#1a1a1a" stroke-width="0.22" textLength="8.3" lengthAdjust="spacingAndGlyphs" transform="translate(22.9 359.6) rotate(-90)">%</text>
<path d="M62.5 331.2V325.2H121.1V331.2" stroke="#1c1c1c" stroke-width="1.2" fill="none"/>
<circle cx="87.10" cy="322.5" r="1.05" fill="#333"/>
<circle cx="90.30" cy="322.5" r="1.05" fill="#333"/>
<circle cx="93.50" cy="322.5" r="1.05" fill="#333"/>
<circle cx="96.70" cy="322.5" r="1.05" fill="#333"/>
<path d="M127.5 330.5V324.5H156.4V330.5" stroke="#1c1c1c" stroke-width="1.2" fill="none"/>
<circle cx="139.00" cy="322.4" r="1.05" fill="#333"/>
<circle cx="142.20" cy="322.4" r="1.05" fill="#333"/>
<circle cx="145.40" cy="322.4" r="1.05" fill="#333"/>
<g stroke="#a80c2c" stroke-width="1.05" fill="none">
<path d="M65.9 390V393.5M61.2 390H70.60000000000001M61.2 393.5H70.60000000000001M56.2 391.6H75.60000000000001"/>
</g>
<circle cx="62.5" cy="391" r="1.85" fill="#a80c2c"/>
<circle cx="66" cy="390.6" r="1.85" fill="#a80c2c"/>
<circle cx="69.4" cy="390.6" r="1.85" fill="#a80c2c"/>
<circle cx="71.25" cy="391" r="1.85" fill="#a80c2c"/>
<circle cx="64.4" cy="394.75" r="1.85" fill="#a80c2c"/>
<g stroke="#1a4588" stroke-width="1.05" fill="none">
<path d="M95.9 390V393.5M91.2 390H100.60000000000001M91.2 393.5H100.60000000000001M86.2 391.9H105.60000000000001"/>
</g>
<rect x="91.55" y="387.85" width="3.10" height="3.10" fill="#1a4588"/>
<rect x="96.65" y="387.85" width="3.10" height="3.10" fill="#1a4588"/>
<rect x="89.65" y="392.65" width="3.10" height="3.10" fill="#1a4588"/>
<rect x="93.95" y="392.95" width="3.10" height="3.10" fill="#1a4588"/>
<rect x="98.25" y="392.45" width="3.10" height="3.10" fill="#1a4588"/>
<rect x="99.95" y="390.25" width="3.10" height="3.10" fill="#1a4588"/>
<g stroke="#58a72e" stroke-width="1.05" fill="none">
<path d="M125.4 347V374.8M120.7 347H130.1M120.7 374.8H130.1M115.7 361.1H135.1"/>
</g>
<path d="M125.40 336.50L127.40 340.10L123.40 340.10Z" fill="#58a72e"/>
<path d="M125.40 349.70L127.40 353.30L123.40 353.30Z" fill="#58a72e"/>
<path d="M125.40 360.00L127.40 363.60L123.40 363.60Z" fill="#58a72e"/>
<path d="M122.80 366.60L124.80 370.20L120.80 370.20Z" fill="#58a72e"/>
<path d="M128.50 367.50L130.50 371.10L126.50 371.10Z" fill="#58a72e"/>
<path d="M125.40 375.10L127.40 378.70L123.40 378.70Z" fill="#58a72e"/>
<g stroke="#4a1c70" stroke-width="1.05" fill="none">
<path d="M155.4 380.5V390.1M150.5 380.5H160.3M150.5 390.1H160.3M145.5 385.2H165.3"/>
</g>
<path d="M147.70 384.40L149.70 380.80L145.70 380.80Z" fill="#4a1c70"/>
<path d="M151.00 385.30L153.00 381.70L149.00 381.70Z" fill="#4a1c70"/>
<path d="M158.60 385.30L160.60 381.70L156.60 381.70Z" fill="#4a1c70"/>
<path d="M163.30 382.50L165.30 378.90L161.30 378.90Z" fill="#4a1c70"/>
<path d="M155.40 396.90L157.40 393.30L153.40 393.30Z" fill="#4a1c70"/>
<path d="M0 0H520V1.4H0Z M0 423.1H520V425H0Z M0 0H1.25V425H0Z M518.4 0H520V425H518.4Z" fill="#111"/>
</svg></body></html>
